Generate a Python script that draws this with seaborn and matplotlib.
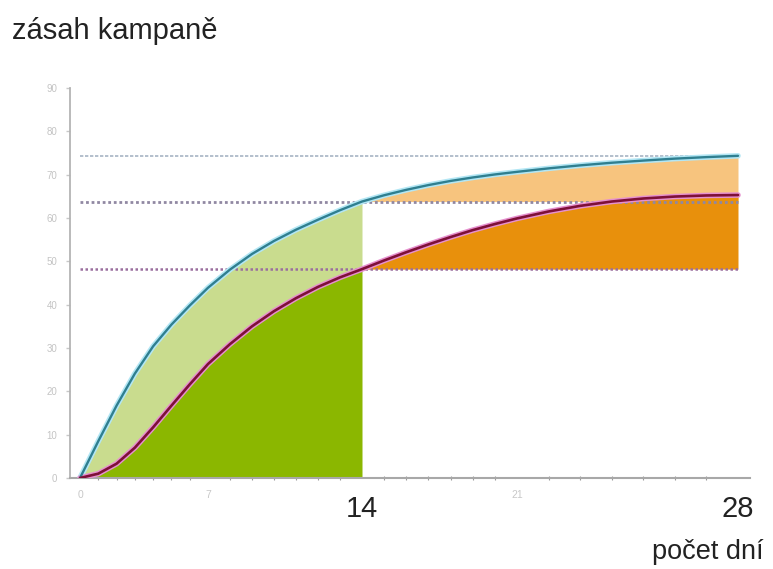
import numpy as np
import matplotlib
matplotlib.use('Agg')
import matplotlib.pyplot as plt
import seaborn as sns

# data (days vs reach)
days = list(range(0, 29))
reach_high = [0, 8.5, 16.7, 24.1, 30.4, 35.4, 39.8, 43.9, 48.1, 51.7, 54.7, 57.3, 59.6, 61.8, 63.8,
              65.25, 66.5, 67.6, 68.55, 69.35, 70.05, 70.65, 71.45, 72.15, 72.75, 73.25, 73.7, 74.05, 74.35]
reach_low = [0, 1.0, 3.3, 7.0, 11.7, 16.7, 21.6, 26.3, 30.9, 35.0, 38.5, 41.5, 44.1, 46.3, 48.2,
             50.2, 52.1, 53.9, 55.6, 57.2, 58.6, 59.9, 61.5, 62.8, 63.8, 64.5, 64.95, 65.2, 65.3]
short_campaign = 14
long_campaign = 28
x_ticks = [0, 7, 14, 21, 28]
x_tick_labels = ['0', '7', '14', '21', '28']
y_ticks = list(range(0, 100, 10))

title = 'zásah kampaně'
x_title = 'počet dní'

# the original axis is not evenly spaced, map days to positions piecewise
knot_days = [0, 7, 14, 21, 28]
knot_pos = [80, 208, 362, 517, 738]


def _pw(v, xs, ys):
    v = np.asarray(v, dtype=float)
    out = np.interp(v, xs, ys)
    lo = (ys[1] - ys[0]) / (xs[1] - xs[0])
    hi = (ys[-1] - ys[-2]) / (xs[-1] - xs[-2])
    out = np.where(v < xs[0], ys[0] + (v - xs[0]) * lo, out)
    out = np.where(v > xs[-1], ys[-1] + (v - xs[-1]) * hi, out)
    return out


def fwd(v):
    return _pw(v, knot_days, knot_pos)


def inv(v):
    return _pw(v, knot_pos, knot_days)


sns.set_style('white')
plt.rcParams['font.family'] = ['Liberation Sans', 'DejaVu Sans']

fig = plt.figure(figsize=(7.73, 5.69), dpi=100)
ax = fig.add_axes([70 / 773, 1 - 478 / 569, (750 - 70) / 773, (478 - 88) / 569])

d = np.array(days)
hi = np.array(reach_high)
lo = np.array(reach_low)
i14 = days.index(short_campaign)
i28 = days.index(long_campaign)
first = d <= short_campaign
second = d >= short_campaign

# fills
ax.fill_between(d[first], lo[first], hi[first], color='#c9dc8e', lw=0, zorder=1)
ax.fill_between(d[first], 0, lo[first], color='#8bb700', lw=0, zorder=1)
ax.fill_between(d[second], hi[i14], hi[second], color='#f7c47e', lw=0, zorder=1)
ax.fill_between(d[second], lo[i14], lo[second], color='#e8900c', lw=0, zorder=1)

# reference levels
ax.hlines(hi[i28], 0, long_campaign, color='#a7b4c4', lw=1.2, linestyles=(0, (2, 1)), zorder=2)
ax.hlines(hi[i14], 0, long_campaign, color='#9088a2', lw=2.0, linestyles=(0, (1, 1)), zorder=2)
ax.hlines(lo[i14], 0, long_campaign, color='#9a6e9e', lw=1.8, linestyles=(0, (1, 1)), zorder=2)

# curves with a soft halo
ax.plot(d, hi, color='#b2e6f4', lw=4, solid_capstyle='round', solid_joinstyle='round', zorder=3)
sns.lineplot(x=days, y=reach_high, color='#2f7f90', lw=1.7, ax=ax, legend=False, zorder=4)
ax.plot(d, lo, color='#e690cf', lw=4, solid_capstyle='round', solid_joinstyle='round', zorder=3)
sns.lineplot(x=days, y=reach_low, color='#7e1038', lw=1.9, ax=ax, legend=False, zorder=4)

ax.set_xscale('function', functions=(fwd, inv))
ax.set_xlim(inv(70).item(), inv(750).item())
ax.set_ylim(0, 90)

# axes styling
for side in ['top', 'right']:
    ax.spines[side].set_visible(False)
ax.spines['left'].set_color('#b4b4b4')
ax.spines['left'].set_linewidth(1.3)
ax.spines['bottom'].set_color('#a8a8a8')
ax.spines['bottom'].set_linewidth(1.5)

ax.set_yticks(y_ticks)
ax.set_yticklabels([str(v) for v in y_ticks])
ax.tick_params(axis='y', length=3, width=1, color='#c8c8c8', pad=6,
               labelsize=7, labelcolor='#c4c4c4', left=True)

ax.set_xticks(x_ticks)
ax.set_xticklabels(x_tick_labels)
ax.set_xticks(days, minor=True)
ax.tick_params(axis='x', which='major', length=0, pad=12)
ax.tick_params(axis='x', which='minor', length=3, width=0.8, color='#9a9a9a',
               direction='inout', bottom=True)
for lab, v in zip(ax.get_xticklabels(), x_ticks):
    if v in (short_campaign, long_campaign):
        lab.set_fontsize(21)
        lab.set_color('#222222')
    else:
        lab.set_fontsize(7.5)
        lab.set_color('#c8c8c8')
        lab.set_verticalalignment('center')

ax.set_xlabel('')
ax.set_ylabel('')

fig.text(12 / 773, 1 - 31 / 569, title, fontsize=21, color='#222222', va='center', ha='left')
fig.text(764 / 773, 1 - 552 / 569, x_title, fontsize=19.5, color='#222222', va='center', ha='right')

fig.savefig('out.png', dpi=100)
